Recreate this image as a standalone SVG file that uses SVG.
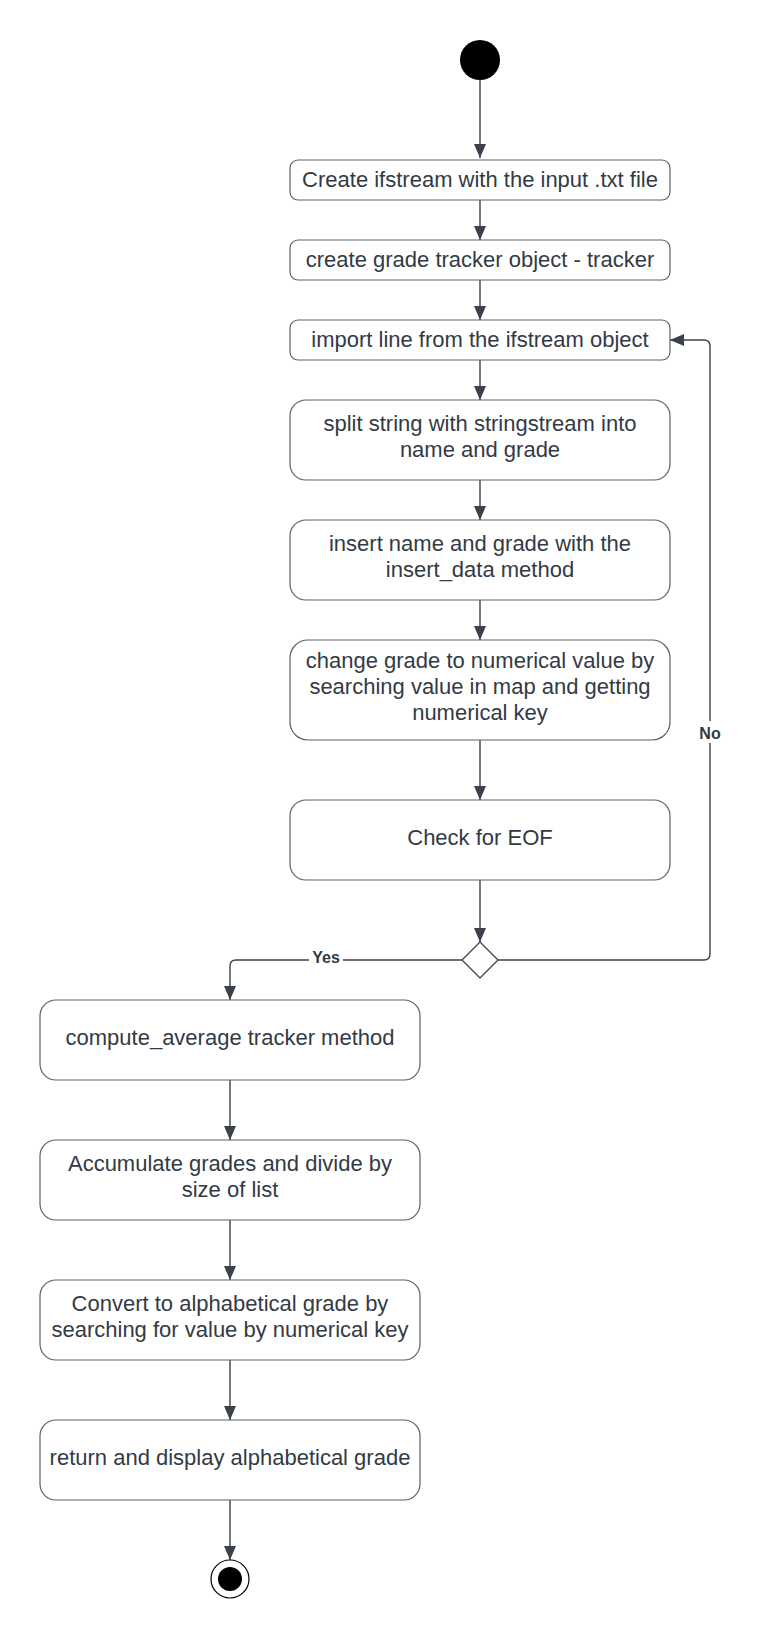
<svg xmlns="http://www.w3.org/2000/svg" width="762" height="1640" viewBox="0 0 762 1640">
<style>
.box{fill:#ffffff;stroke:#5c6066;stroke-width:1.2}
.t{font-family:"Liberation Sans",Arial,sans-serif;font-size:22px;fill:#333a45;text-anchor:middle}
.lbl{font-family:"Liberation Sans",Arial,sans-serif;font-size:16px;font-weight:bold;fill:#333a45;text-anchor:middle}
.c{fill:none;stroke:#3a414a;stroke-width:1.4}
</style>
<defs>
<marker id="ah" viewBox="0 0 14 12" refX="14" refY="6" markerWidth="14" markerHeight="12" markerUnits="userSpaceOnUse" orient="auto">
<path d="M0,0 L14,6 L0,12 Z" fill="#3a414a"/>
</marker>
</defs>
<rect width="762" height="1640" fill="#ffffff"/>
<g id="connectors">
<path class="c" d="M480,80 V158" marker-end="url(#ah)"/>
<path class="c" d="M480,200 V240" marker-end="url(#ah)"/>
<path class="c" d="M480,280 V320" marker-end="url(#ah)"/>
<path class="c" d="M480,360 V400" marker-end="url(#ah)"/>
<path class="c" d="M480,480 V520" marker-end="url(#ah)"/>
<path class="c" d="M480,600 V640" marker-end="url(#ah)"/>
<path class="c" d="M480,740 V800" marker-end="url(#ah)"/>
<path class="c" d="M480,880 V942" marker-end="url(#ah)"/>
<path class="c" d="M498,960 H704 Q710,960 710,954 V346 Q710,340 704,340 H670" marker-end="url(#ah)"/>
<path class="c" d="M462,960 H236 Q230,960 230,966 V1000" marker-end="url(#ah)"/>
<path class="c" d="M230,1080 V1140" marker-end="url(#ah)"/>
<path class="c" d="M230,1220 V1280" marker-end="url(#ah)"/>
<path class="c" d="M230,1360 V1420" marker-end="url(#ah)"/>
<path class="c" d="M230,1500 V1560" marker-end="url(#ah)"/>
<rect x="697" y="721" width="26" height="22" fill="#ffffff"/>
<text class="lbl" x="710" y="739">No</text>
<rect x="309" y="949" width="34" height="20" fill="#ffffff"/>
<text class="lbl" x="326" y="963">Yes</text>
</g>
<g id="start"><circle cx="480" cy="60" r="20" fill="#000000"/></g>
<g id="n1"><rect class="box" x="290" y="160" width="380" height="40" rx="8"/><text class="t" x="480" y="187">Create ifstream with the input .txt file</text></g>
<g id="n2"><rect class="box" x="290" y="240" width="380" height="40" rx="8"/><text class="t" x="480" y="267">create grade tracker object - tracker</text></g>
<g id="n3"><rect class="box" x="290" y="320" width="380" height="40" rx="8"/><text class="t" x="480" y="347">import line from the ifstream object</text></g>
<g id="n4"><rect class="box" x="290" y="400" width="380" height="80" rx="16"/><text class="t" x="480" y="431">split string with stringstream into</text><text class="t" x="480" y="457">name and grade</text></g>
<g id="n5"><rect class="box" x="290" y="520" width="380" height="80" rx="16"/><text class="t" x="480" y="551">insert name and grade with the</text><text class="t" x="480" y="577">insert_data method</text></g>
<g id="n6"><rect class="box" x="290" y="640" width="380" height="100" rx="18"/><text class="t" x="480" y="668">change grade to numerical value by</text><text class="t" x="480" y="694">searching value in map and getting</text><text class="t" x="480" y="720">numerical key</text></g>
<g id="n7"><rect class="box" x="290" y="800" width="380" height="80" rx="16"/><text class="t" x="480" y="845">Check for EOF</text></g>
<g id="decision"><path d="M480,942 L498,960 L480,978 L462,960 Z" fill="#ffffff" stroke="#3a414a" stroke-width="1.2" stroke-linejoin="round"/></g>
<g id="n8"><rect class="box" x="40" y="1000" width="380" height="80" rx="16"/><text class="t" x="230" y="1045">compute_average tracker method</text></g>
<g id="n9"><rect class="box" x="40" y="1140" width="380" height="80" rx="16"/><text class="t" x="230" y="1171">Accumulate grades and divide by</text><text class="t" x="230" y="1197">size of list</text></g>
<g id="n10"><rect class="box" x="40" y="1280" width="380" height="80" rx="16"/><text class="t" x="230" y="1311">Convert to alphabetical grade by</text><text class="t" x="230" y="1337">searching for value by numerical key</text></g>
<g id="n11"><rect class="box" x="40" y="1420" width="380" height="80" rx="16"/><text class="t" x="230" y="1465">return and display alphabetical grade</text></g>
<g id="end"><circle cx="230" cy="1579" r="19" fill="#ffffff" stroke="#000000" stroke-width="1.2"/><circle cx="230" cy="1579" r="12" fill="#000000"/></g>
</svg>
